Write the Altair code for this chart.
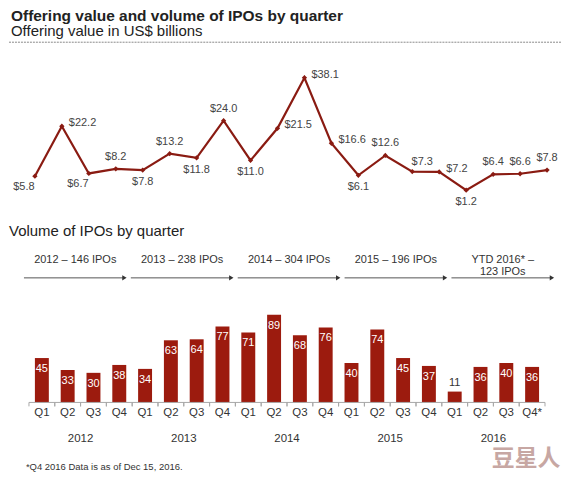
import altair as alt
import pandas as pd

# ---------------- data ----------------
quarters = ["Q1", "Q2", "Q3", "Q4", "Q1", "Q2", "Q3", "Q4", "Q1", "Q2",
            "Q3", "Q4", "Q1", "Q2", "Q3", "Q4", "Q1", "Q2", "Q3", "Q4*"]
years = ["2012"] * 4 + ["2013"] * 4 + ["2014"] * 4 + ["2015"] * 4 + ["2016"] * 4
offering = [5.8, 22.2, 6.7, 8.2, 7.8, 13.2, 11.8, 24.0, 11.0, 21.5,
            38.1, 16.6, 6.1, 12.6, 7.3, 7.2, 1.2, 6.4, 6.6, 7.8]
volume = [45, 33, 30, 38, 34, 63, 64, 77, 71, 89,
          68, 76, 40, 74, 45, 37, 11, 36, 40, 36]
# label placement style for the offering-value labels
label_place = ["bl", "r", "bl", "a", "b", "a", "b", "a", "b", "r",
               "r", "r", "b", "a", "ar", "r", "b", "a", "a", "a"]
group_labels = ["2012 – 146 IPOs", "2013 – 238 IPOs", "2014 – 304 IPOs",
                "2015 – 196 IPOs", "YTD 2016* –\n123 IPOs"]

TITLE = "Offering value and volume of IPOs by quarter"
SUBTITLE = "Offering value in US$ billions"
TITLE2 = "Volume  of IPOs by quarter"
FOOTNOTE = "*Q4 2016 Data is as of Dec 15, 2016."
WATERMARK = "豆星人"

FONT = "Liberation Sans"
LINE_RED = "#8a1b12"
BAR_RED = "#9c1b0e"
TXT = "#333333"

W = 554
TOP_H = 210
BOT_H = 255

df_top = pd.DataFrame({
    "i": list(range(len(offering))),
    "v": offering,
    "lab": ["$%.1f" % v for v in offering],
    "p": label_place,
})
df_bot = pd.DataFrame({
    "xi": list(range(len(volume))),
    "vol": volume,
    "q": quarters,
    "year": years,
})
df_grp = pd.DataFrame({"g": list(range(len(group_labels))), "lab": group_labels})
one = pd.DataFrame({"k": [0]})

# ---------------- top panel ----------------
XS_T = alt.Scale(domain=[-0.961, 19.518], nice=False, zero=False)
YS_T = alt.Scale(domain=[-7.94, 60.69], nice=False, zero=False)

base_t = alt.Chart(df_top).encode(
    x=alt.X("i:Q", scale=XS_T, axis=None),
    y=alt.Y("v:Q", scale=YS_T, axis=None),
)
line = base_t.mark_line(color=LINE_RED, strokeWidth=2.2)
pts = base_t.mark_point(shape="diamond", filled=True, size=28, color=LINE_RED, opacity=1)

def lab_layer(code, **kw):
    return base_t.transform_filter(alt.datum.p == code).mark_text(
        font=FONT, fontSize=11, color="#444444", baseline="middle", **kw
    ).encode(text="lab:N")

lab_a = lab_layer("a", dy=-12, align="center")
lab_b = lab_layer("b", dy=12, align="center")
lab_bl = lab_layer("bl", dx=-11, dy=11, align="center")
lab_r = lab_layer("r", dx=7, dy=-3, align="left")
lab_ar = lab_layer("ar", dx=10, dy=-10, align="center")

title = alt.Chart(one).mark_text(
    text=TITLE, font=FONT, fontSize=15.5, fontWeight="bold", color="#222222",
    align="left", baseline="alphabetic"
).encode(x=alt.value(2), y=alt.value(12))
subtitle = alt.Chart(one).mark_text(
    text=SUBTITLE, font=FONT, fontSize=15, color="#222222",
    align="left", baseline="alphabetic"
).encode(x=alt.value(2), y=alt.value(27.5))
dash = alt.Chart(one).mark_rule(color="#8a8a8a", strokeDash=[2, 1], strokeWidth=1).encode(
    x=alt.value(0), x2=alt.value(W), y=alt.value(33.5)
)

top = alt.layer(title, subtitle, dash, line, pts, lab_a, lab_b, lab_bl, lab_r, lab_ar).properties(
    width=W, height=TOP_H
)

# ---------------- bottom panel ----------------
XS_B = alt.Scale(domain=[-1.274, 20.12], nice=False, zero=False)
YS_B = alt.Scale(domain=[-70.7, 186.9], nice=False, zero=False)
XS_G = alt.Scale(domain=[-0.62, 4.545], nice=False, zero=False)

bars = alt.Chart(df_bot).transform_calculate(
    lo="datum.xi - 0.27", hi="datum.xi + 0.27"
).mark_bar(color=BAR_RED).encode(
    x=alt.X("lo:Q", scale=XS_B, axis=None),
    x2="hi:Q",
    y=alt.Y("vol:Q", scale=YS_B, axis=None),
    y2=alt.Y2(datum=0),
)
in_labels = alt.Chart(df_bot).transform_filter(alt.datum.vol >= 20).mark_text(
    font=FONT, fontSize=11, color="white", dy=11, baseline="middle"
).encode(
    x=alt.X("xi:Q", scale=XS_B, axis=None),
    y=alt.Y("vol:Q", scale=YS_B, axis=None),
    text="vol:Q",
)
out_labels = alt.Chart(df_bot).transform_filter(alt.datum.vol < 20).mark_text(
    font=FONT, fontSize=11, color=TXT, dy=-9, baseline="middle"
).encode(
    x=alt.X("xi:Q", scale=XS_B, axis=None),
    y=alt.Y("vol:Q", scale=YS_B, axis=None),
    text="vol:Q",
)
axis_line = alt.Chart(df_bot).transform_calculate(
    lo="datum.xi - 0.5", hi="datum.xi + 0.5"
).mark_rule(color="#a8a8a8", strokeWidth=1).encode(
    x=alt.X("min(lo):Q", scale=XS_B, axis=None),
    x2="max(hi):Q",
    y=alt.Y(datum=0, scale=YS_B, axis=None),
)
ticks_l = alt.Chart(df_bot).transform_calculate(t="datum.xi - 0.5").mark_rule(
    color="#a8a8a8", strokeWidth=1
).encode(
    x=alt.X("t:Q", scale=XS_B, axis=None),
    y=alt.Y(datum=0, scale=YS_B, axis=None),
    y2=alt.Y2(datum=-4),
)
ticks_r = alt.Chart(df_bot).transform_calculate(t="datum.xi + 0.5").mark_rule(
    color="#a8a8a8", strokeWidth=1
).encode(
    x=alt.X("t:Q", scale=XS_B, axis=None),
    y=alt.Y(datum=0, scale=YS_B, axis=None),
    y2=alt.Y2(datum=-4),
)
q_labels = alt.Chart(df_bot).mark_text(
    font=FONT, fontSize=11.5, color=TXT, baseline="middle"
).encode(
    x=alt.X("xi:Q", scale=XS_B, axis=None),
    y=alt.value(196),
    text="q:N",
)
yr_labels = alt.Chart(df_bot).mark_text(
    font=FONT, fontSize=11.5, color=TXT, baseline="middle"
).encode(
    x=alt.X("mean(xi):Q", scale=XS_B, axis=None),
    y=alt.value(222),
    text="year:N",
)

arrows = alt.Chart(df_grp).transform_calculate(
    lo="datum.g - 0.48", hi="datum.g + 0.46"
).mark_rule(color="#555555", strokeWidth=1).encode(
    x=alt.X("lo:Q", scale=XS_G, axis=None),
    x2="hi:Q",
    y=alt.value(60),
)
heads = alt.Chart(df_grp).transform_calculate(hi="datum.g + 0.46").mark_point(
    shape="triangle-right", filled=True, size=26, color="#333333", opacity=1
).encode(
    x=alt.X("hi:Q", scale=XS_G, axis=None),
    y=alt.value(60),
)
grp_text = alt.Chart(df_grp).mark_text(
    font=FONT, fontSize=11, color=TXT, baseline="middle", lineBreak="\n", lineHeight=12
).encode(
    x=alt.X("g:Q", scale=XS_G, axis=None),
    y=alt.value(42),
    text="lab:N",
)

title2 = alt.Chart(one).mark_text(
    text=TITLE2, font=FONT, fontSize=15, color="#222222",
    align="left", baseline="alphabetic"
).encode(x=alt.value(0), y=alt.value(17.5))
foot = alt.Chart(one).mark_text(
    text=FOOTNOTE, font=FONT, fontSize=9.5, color=TXT,
    align="left", baseline="bottom"
).encode(x=alt.value(17), y=alt.value(255))
wm = alt.Chart(one).mark_text(
    text=WATERMARK, font="Noto Sans CJK SC", fontSize=23, fontWeight="bold",
    color="#c7a7a3", align="center", baseline="middle"
).encode(x=alt.value(519), y=alt.value(242))

bottom = alt.layer(
    title2, arrows, heads, grp_text, bars, in_labels, out_labels,
    axis_line, ticks_l, ticks_r, q_labels, yr_labels, foot, wm
).resolve_scale(x="independent").properties(width=W, height=BOT_H)

chart = alt.vconcat(top, bottom, spacing=0).resolve_scale(
    x="independent", y="independent"
).properties(padding=0).configure_view(stroke=None)

chart.save("out.html", embed_options={"renderer": "svg", "actions": False})
